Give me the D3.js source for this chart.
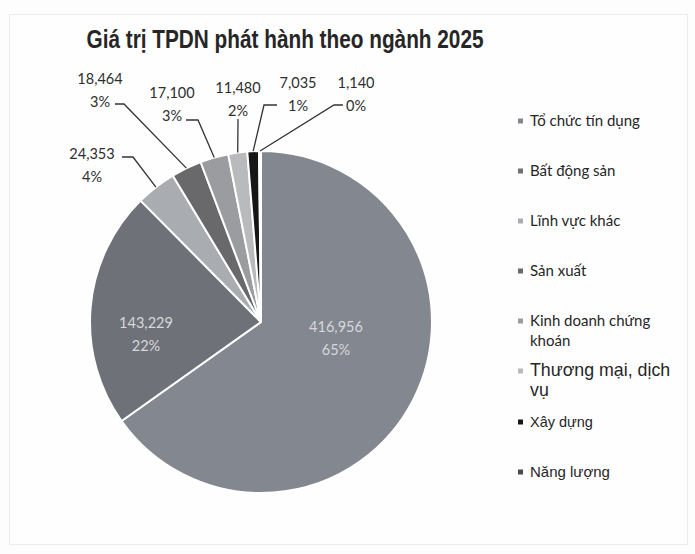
<!DOCTYPE html>
<html>
<head>
<meta charset="utf-8">
<script src="https://cdn.jsdelivr.net/npm/d3@7"></script>
<style>
  html, body { margin: 0; padding: 0; background: #fdfdfd; }
  svg { display: block; }
</style>
</head>
<body>
<svg id="chart" width="695" height="554"></svg>
<script>
// Corporate bond issuance by sector, 2025 (billion VND)
const sectors = [
  "Tổ chức tín dụng",
  "Bất động sản",
  "Lĩnh vực khác",
  "Sản xuất",
  "Kinh doanh chứng khoán",
  "Thương mại, dịch vụ",
  "Xây dựng",
  "Năng lượng"
];
const values = [416956, 143229, 24353, 18464, 17100, 11480, 7035, 1140];
const colors = ["#83878f", "#6e7177", "#a9acb1", "#69696b", "#9b9c9f", "#b9babc", "#161616", "#4a4a4a"];
const title = "Giá trị TPDN phát hành theo ngành 2025";

// Legend lines (long names wrap onto two lines)
const legendLines = [
  ["Tổ chức tín dụng"],
  ["Bất động sản"],
  ["Lĩnh vực khác"],
  ["Sản xuất"],
  ["Kinh doanh chứng", "khoán"],
  ["Thương mại, dịch", "vụ"],
  ["Xây dựng"],
  ["Năng lượng"]
];

const svg = d3.select("#chart");

// faint outer frame
svg.append("rect")
  .attr("x", 9.5).attr("y", 14.5).attr("width", 678).attr("height", 530)
  .attr("fill", "#fefefe").attr("stroke", "#ececec").attr("stroke-width", 1);

const titleText = svg.append("text")
  .attr("x", 285).attr("y", 48)
  .attr("text-anchor", "middle")
  .attr("font-family", "'Liberation Sans Narrow', 'Liberation Sans', Arial, sans-serif")
  .attr("font-weight", "bold")
  .attr("font-size", 25)
  .attr("fill", "#262626")
  .text(title);
// keep the title within its intended span whatever face gets used
const tw = titleText.node().getComputedTextLength();
if (Math.abs(tw - 397) > 6) titleText.attr("textLength", 397).attr("lengthAdjust", "spacingAndGlyphs");

const cx = 261, cy = 322, R = 171;
const total = d3.sum(values);
const fmt = d3.format(",");
const pct = v => Math.round(v / total * 100) + "%";

const pie = d3.pie().sort(null).value(d => d)(values);
const arc = d3.arc().innerRadius(0).outerRadius(R);

const g = svg.append("g").attr("transform", `translate(${cx},${cy})`);

g.selectAll("path.slice")
  .data(pie)
  .join("path")
  .attr("class", "slice")
  .attr("d", arc)
  .attr("fill", (d, i) => colors[i])
  .attr("stroke", "#ffffff")
  .attr("stroke-width", 2)
  .attr("stroke-linejoin", "round");

// Label placement (absolute page coordinates)
// inside: text centre; outside: text centre plus the leader start and elbow
const labelLayout = [
  { inside: true, x: 336, y: 332 },
  { inside: true, x: 146, y: 328 },
  { x: 92,  y: 159, start: [122, 157], elbow: [133, 157] },
  { x: 100, y: 84,  start: [115, 104], elbow: [124, 104] },
  { x: 172, y: 98,  start: [186, 120], elbow: [198, 120] },
  { x: 238, y: 93,  start: [238, 119], elbow: [238, 121] },
  { x: 298, y: 88,  start: [277, 105], elbow: [264, 105] },
  { x: 356, y: 88,  start: [343, 105], elbow: [334, 105] }
];

const lbl = svg.append("g");
pie.forEach((d, i) => {
  const L = labelLayout[i];
  const mid = (d.startAngle + d.endAngle) / 2;
  if (!L.inside) {
    const px = cx + Math.sin(mid) * R, py = cy - Math.cos(mid) * R;
    lbl.append("path")
      .attr("d", d3.line()([L.start, L.elbow, [px, py]]))
      .attr("fill", "none")
      .attr("stroke", "#333")
      .attr("stroke-width", 1.3);
  }
  const t = lbl.append("text")
    .attr("text-anchor", "middle")
    .attr("font-family", "Lato, 'Open Sans', sans-serif")
    .attr("font-size", 14.5)
    .attr("fill", L.inside ? "#d6d8dc" : "#2e2e2e");
  t.append("tspan").attr("x", L.x).attr("y", L.y).text(fmt(values[i]));
  t.append("tspan").attr("x", L.x).attr("y", L.y + 23).text(pct(values[i]));
});

// Legend
const legendY = [126, 176, 226, 276, 326, 376, 427, 477];
const legendFont = [
  { f: "Lato, sans-serif", s: 15 },
  { f: "Lato, sans-serif", s: 15 },
  { f: "Lato, sans-serif", s: 15 },
  { f: "Lato, sans-serif", s: 15 },
  { f: "Lato, sans-serif", s: 15 },
  { f: "Liberation Sans, Arial, sans-serif", s: 17.8 },
  { f: "Liberation Sans, Arial, sans-serif", s: 14.5 },
  { f: "Liberation Sans, Arial, sans-serif", s: 15 }
];
const lg = svg.append("g");
sectors.forEach((s, i) => {
  const y = legendY[i];
  lg.append("rect")
    .attr("x", 518).attr("y", y - 7.5).attr("width", 5).attr("height", 5)
    .attr("fill", colors[i]);
  const t = lg.append("text")
    .attr("font-family", legendFont[i].f)
    .attr("font-size", legendFont[i].s)
    .attr("fill", "#262626");
  legendLines[i].forEach((line, k) => {
    t.append("tspan").attr("x", 530).attr("y", y + k * 20).text(line);
  });
});
</script>
</body>
</html>
